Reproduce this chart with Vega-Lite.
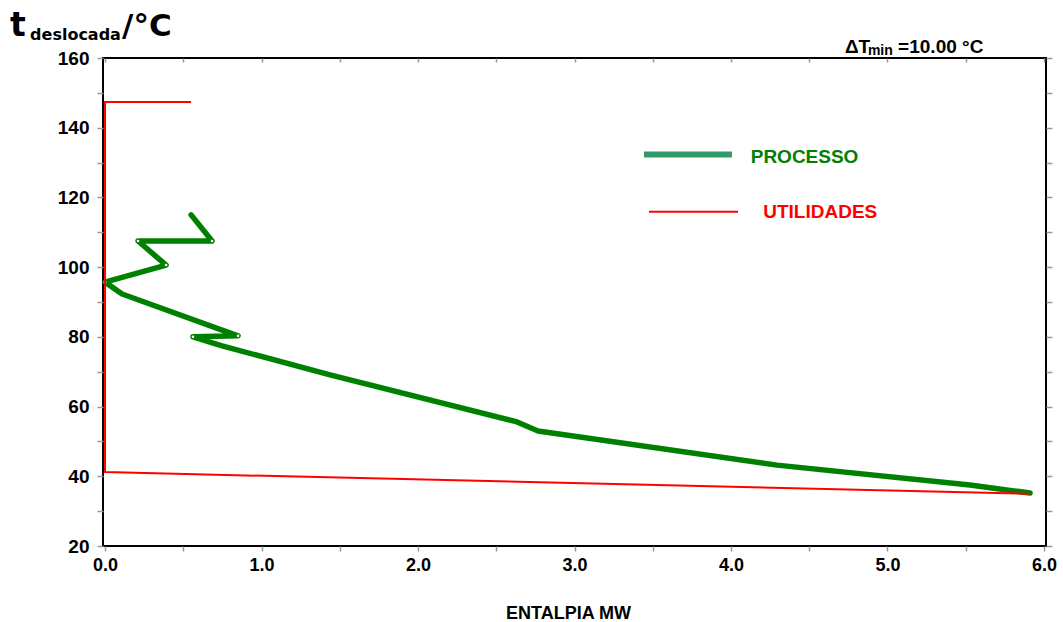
{
  "$schema": "https://vega.github.io/schema/vega-lite/v6.json",
  "width": 943,
  "height": 488,
  "autosize": "none",
  "padding": {"left": 103, "top": 58, "right": 17, "bottom": 76},
  "background": "white",
  "config": {
    "view": {"stroke": "black", "strokeWidth": 2},
    "font": "Liberation Sans",
    "axis": {"domain": false, "grid": false, "tickColor": "#999999", "tickWidth": 1.5, "labelFont": "Liberation Sans", "labelFontWeight": "bold", "labelColor": "black", "titleFont": "Liberation Sans", "titleFontWeight": "bold", "titleColor": "black"}
  },
  "datasets": {
    "processo": [
      {"i": 1, "entalpia": 0.550, "t": 115.0, "vertice": 0},
      {"i": 2, "entalpia": 0.684, "t": 107.5, "vertice": 1},
      {"i": 3, "entalpia": 0.211, "t": 107.5, "vertice": 1},
      {"i": 4, "entalpia": 0.390, "t": 100.6, "vertice": 1},
      {"i": 5, "entalpia": 0.000, "t": 95.7, "vertice": 1},
      {"i": 6, "entalpia": 0.109, "t": 92.3, "vertice": 0},
      {"i": 7, "entalpia": 0.850, "t": 80.3, "vertice": 1},
      {"i": 8, "entalpia": 0.562, "t": 80.0, "vertice": 1},
      {"i": 9, "entalpia": 0.748, "t": 77.4, "vertice": 0},
      {"i": 10, "entalpia": 1.438, "t": 69.1, "vertice": 0},
      {"i": 11, "entalpia": 2.633, "t": 55.6, "vertice": 0},
      {"i": 12, "entalpia": 2.767, "t": 53.0, "vertice": 0},
      {"i": 13, "entalpia": 4.294, "t": 43.2, "vertice": 0},
      {"i": 14, "entalpia": 5.527, "t": 37.5, "vertice": 0},
      {"i": 15, "entalpia": 5.911, "t": 35.2, "vertice": 0}
    ],
    "utilidades": [
      {"i": 1, "entalpia": 0.550, "t": 147.4},
      {"i": 2, "entalpia": 0.000, "t": 147.4},
      {"i": 3, "entalpia": 0.000, "t": 41.2},
      {"i": 4, "entalpia": 5.911, "t": 35.0}
    ],
    "legenda_processo": [
      {"entalpia": 3.444, "t": 132.3},
      {"entalpia": 4.006, "t": 132.3}
    ],
    "legenda_utilidades": [
      {"entalpia": 3.476, "t": 115.9},
      {"entalpia": 4.045, "t": 115.9}
    ]
  },
  "resolve": {"axis": {"x": "independent", "y": "independent"}},
  "layer": [
    {
      "data": {"name": "processo"},
      "mark": {"type": "line", "color": "#008000", "strokeWidth": 5.5, "strokeJoin": "round", "strokeCap": "round"},
      "encoding": {
        "x": {"field": "entalpia", "type": "quantitative", "scale": {"domain": [-0.013, 6.013], "nice": false, "zero": false},
          "axis": {"orient": "bottom", "values": [0, 0.5, 1, 1.5, 2, 2.5, 3, 3.5, 4, 4.5, 5, 5.5, 6], "format": ".1f", "labelExpr": "datum.value % 1 === 0 ? datum.label : ''", "tickSize": 5, "labelPadding": 5, "labelFontSize": 18, "labelFlush": false, "title": "ENTALPIA MW", "titleFontSize": 18, "titleBaseline": "alphabetic", "titleY": 72, "titleX": 465}},
        "y": {"field": "t", "type": "quantitative", "scale": {"domain": [20, 160], "nice": false, "zero": false},
          "axis": {"orient": "left", "values": [20, 30, 40, 50, 60, 70, 80, 90, 100, 110, 120, 130, 140, 150, 160], "labelExpr": "datum.value % 20 === 0 ? datum.label : ''", "tickSize": 6, "labelPadding": 8, "labelFontSize": 19, "labelFlush": false, "title": null}},
        "order": {"field": "i"}
      }
    },
    {
      "data": {"name": "processo"},
      "transform": [{"filter": "datum.vertice === 1"}],
      "mark": {"type": "point", "filled": true, "color": "white", "size": 7, "opacity": 1},
      "encoding": {
        "x": {"field": "entalpia", "type": "quantitative", "axis": null},
        "y": {"field": "t", "type": "quantitative", "axis": null}
      }
    },
    {
      "data": {"name": "utilidades"},
      "mark": {"type": "line", "color": "#ff0000", "strokeWidth": 2},
      "encoding": {
        "x": {"field": "entalpia", "type": "quantitative",
          "axis": {"orient": "top", "values": [0, 0.5, 1, 1.5, 2, 2.5, 3, 3.5, 4, 4.5, 5, 5.5, 6], "labels": false, "tickSize": -4, "title": null}},
        "y": {"field": "t", "type": "quantitative",
          "axis": {"orient": "right", "values": [20, 30, 40, 50, 60, 70, 80, 90, 100, 110, 120, 130, 140, 150, 160], "labels": false, "tickSize": 6, "title": null}},
        "order": {"field": "i"}
      }
    },
    {
      "data": {"name": "legenda_processo"},
      "mark": {"type": "line", "color": "#339966", "strokeWidth": 6},
      "encoding": {
        "x": {"field": "entalpia", "type": "quantitative", "axis": null},
        "y": {"field": "t", "type": "quantitative", "axis": null}
      }
    },
    {
      "data": {"name": "legenda_utilidades"},
      "mark": {"type": "line", "color": "#ff0000", "strokeWidth": 2},
      "encoding": {
        "x": {"field": "entalpia", "type": "quantitative", "axis": null},
        "y": {"field": "t", "type": "quantitative", "axis": null}
      }
    },
    {
      "data": {"values": [{}]},
      "mark": {"type": "text", "text": "PROCESSO", "color": "#008000", "fontSize": 19, "fontWeight": "bold", "align": "left", "baseline": "alphabetic"},
      "encoding": {"x": {"datum": 4.126, "type": "quantitative", "axis": null}, "y": {"datum": 129.8, "type": "quantitative", "axis": null}}
    },
    {
      "data": {"values": [{}]},
      "mark": {"type": "text", "text": "UTILIDADES", "color": "#ff0000", "fontSize": 19, "fontWeight": "bold", "align": "left", "baseline": "alphabetic"},
      "encoding": {"x": {"datum": 4.206, "type": "quantitative", "axis": null}, "y": {"datum": 114.0, "type": "quantitative", "axis": null}}
    },
    {
      "data": {"values": [{}]},
      "mark": {"type": "text", "text": "t", "color": "black", "font": "DejaVu Sans", "fontSize": 33, "fontWeight": "bold", "align": "left", "baseline": "alphabetic"},
      "encoding": {"x": {"datum": -0.607, "type": "quantitative", "axis": null}, "y": {"datum": 166.4, "type": "quantitative", "axis": null}}
    },
    {
      "data": {"values": [{}]},
      "mark": {"type": "text", "text": "deslocada", "color": "black", "font": "DejaVu Sans", "fontSize": 16, "fontWeight": "bold", "align": "left", "baseline": "alphabetic"},
      "encoding": {"x": {"datum": -0.479, "type": "quantitative", "axis": null}, "y": {"datum": 165.2, "type": "quantitative", "axis": null}}
    },
    {
      "data": {"values": [{}]},
      "mark": {"type": "text", "text": "/°C", "color": "black", "font": "DejaVu Sans", "fontSize": 31, "fontWeight": "bold", "align": "left", "baseline": "alphabetic"},
      "encoding": {"x": {"datum": 0.109, "type": "quantitative", "axis": null}, "y": {"datum": 166.4, "type": "quantitative", "axis": null}}
    },
    {
      "data": {"values": [{}]},
      "mark": {"type": "text", "text": "ΔT", "color": "black", "fontSize": 19, "fontWeight": "bold", "align": "left", "baseline": "alphabetic"},
      "encoding": {"x": {"datum": 4.728, "type": "quantitative", "axis": null}, "y": {"datum": 161.5, "type": "quantitative", "axis": null}}
    },
    {
      "data": {"values": [{}]},
      "mark": {"type": "text", "text": "min", "color": "black", "fontSize": 14, "fontWeight": "bold", "align": "left", "baseline": "alphabetic"},
      "encoding": {"x": {"datum": 4.875, "type": "quantitative", "axis": null}, "y": {"datum": 160.9, "type": "quantitative", "axis": null}}
    },
    {
      "data": {"values": [{}]},
      "mark": {"type": "text", "text": "=10.00 °C", "color": "black", "fontSize": 19, "fontWeight": "bold", "align": "left", "baseline": "alphabetic"},
      "encoding": {"x": {"datum": 5.068, "type": "quantitative", "axis": null}, "y": {"datum": 161.5, "type": "quantitative", "axis": null}}
    }
  ]
}
